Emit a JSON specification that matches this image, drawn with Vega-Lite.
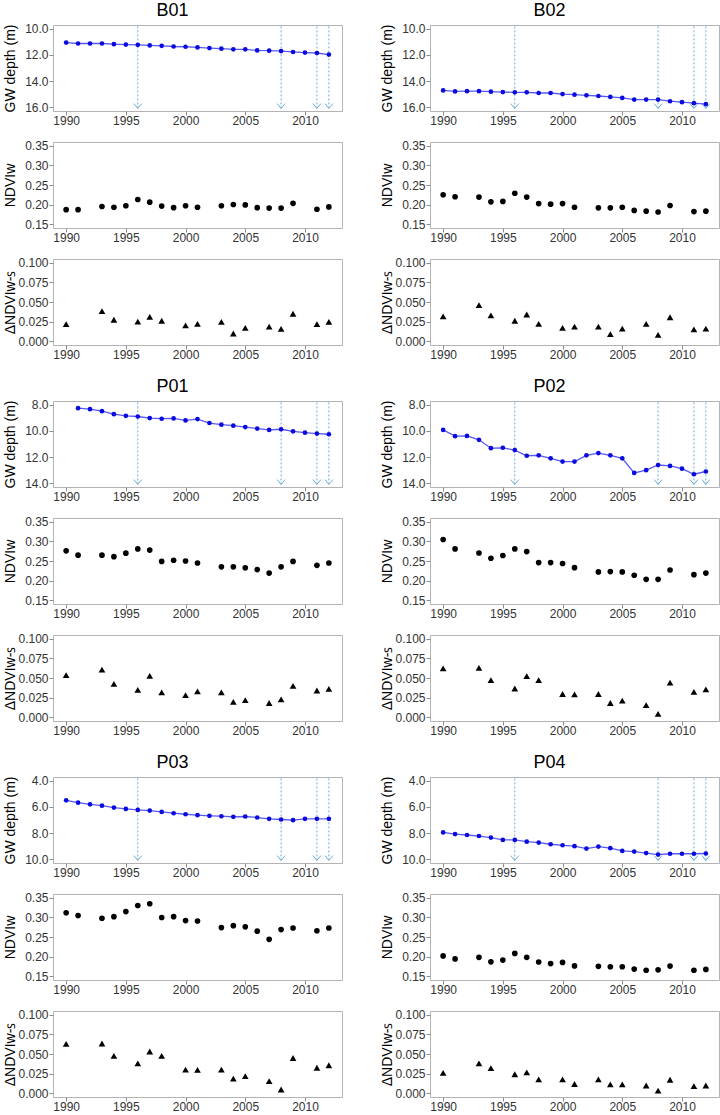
{
"$schema": "https://vega.github.io/schema/vega-lite/v6.json",
"padding": {"left": 2, "top": 2, "right": 0, "bottom": 0},
"background": "white",
"spacing": 17,
"config": {
  "view": {"stroke": "#b3b3b3", "strokeWidth": 1},
  "axis": {"labelFont": "Liberation Sans", "labelFontSize": 12, "labelColor": "#333333", "tickColor": "#8c8c8c", "tickSize": 4, "domain": false, "grid": false, "titleFont": "Liberation Sans", "titleFontSize": 14, "titleColor": "#000000", "titleFontWeight": "normal", "labelPadding": 2, "titlePadding": 4},
  "axisX": {"labelPadding": 0},
  "axisY": {"minExtent": 36, "maxExtent": 36, "titlePadding": 0, "labelPadding": 1},
  "title": {"font": "Liberation Sans", "fontSize": 18, "fontWeight": "normal", "color": "#000000", "anchor": "middle", "offset": 2, "baseline": "alphabetic"}
},
"datasets": {
  "gw": [
    {"site":"B01","year":1990,"depth":11.05},{"site":"B01","year":1991,"depth":11.12},{"site":"B01","year":1992,"depth":11.12},{"site":"B01","year":1993,"depth":11.12},{"site":"B01","year":1994,"depth":11.17},{"site":"B01","year":1995,"depth":11.2},{"site":"B01","year":1996,"depth":11.22},{"site":"B01","year":1997,"depth":11.27},{"site":"B01","year":1998,"depth":11.3},{"site":"B01","year":1999,"depth":11.35},{"site":"B01","year":2000,"depth":11.37},{"site":"B01","year":2001,"depth":11.42},{"site":"B01","year":2002,"depth":11.47},{"site":"B01","year":2003,"depth":11.52},{"site":"B01","year":2004,"depth":11.57},{"site":"B01","year":2005,"depth":11.57},{"site":"B01","year":2006,"depth":11.65},{"site":"B01","year":2007,"depth":11.67},{"site":"B01","year":2008,"depth":11.7},{"site":"B01","year":2009,"depth":11.77},{"site":"B01","year":2010,"depth":11.82},{"site":"B01","year":2011,"depth":11.85},{"site":"B01","year":2012,"depth":11.97},
    {"site":"B02","year":1990,"depth":14.72},{"site":"B02","year":1991,"depth":14.8},{"site":"B02","year":1992,"depth":14.78},{"site":"B02","year":1993,"depth":14.78},{"site":"B02","year":1994,"depth":14.82},{"site":"B02","year":1995,"depth":14.85},{"site":"B02","year":1996,"depth":14.87},{"site":"B02","year":1997,"depth":14.87},{"site":"B02","year":1998,"depth":14.92},{"site":"B02","year":1999,"depth":14.92},{"site":"B02","year":2000,"depth":15.0},{"site":"B02","year":2001,"depth":15.05},{"site":"B02","year":2002,"depth":15.1},{"site":"B02","year":2003,"depth":15.15},{"site":"B02","year":2004,"depth":15.22},{"site":"B02","year":2005,"depth":15.3},{"site":"B02","year":2006,"depth":15.42},{"site":"B02","year":2007,"depth":15.42},{"site":"B02","year":2008,"depth":15.42},{"site":"B02","year":2009,"depth":15.55},{"site":"B02","year":2010,"depth":15.62},{"site":"B02","year":2011,"depth":15.7},{"site":"B02","year":2012,"depth":15.77},
    {"site":"P01","year":1991,"depth":8.25},{"site":"P01","year":1992,"depth":8.33},{"site":"P01","year":1993,"depth":8.48},{"site":"P01","year":1994,"depth":8.71},{"site":"P01","year":1995,"depth":8.84},{"site":"P01","year":1996,"depth":8.89},{"site":"P01","year":1997,"depth":9.01},{"site":"P01","year":1998,"depth":9.06},{"site":"P01","year":1999,"depth":9.04},{"site":"P01","year":2000,"depth":9.19},{"site":"P01","year":2001,"depth":9.09},{"site":"P01","year":2002,"depth":9.39},{"site":"P01","year":2003,"depth":9.52},{"site":"P01","year":2004,"depth":9.59},{"site":"P01","year":2005,"depth":9.7},{"site":"P01","year":2006,"depth":9.82},{"site":"P01","year":2007,"depth":9.92},{"site":"P01","year":2008,"depth":9.87},{"site":"P01","year":2009,"depth":10.03},{"site":"P01","year":2010,"depth":10.13},{"site":"P01","year":2011,"depth":10.2},{"site":"P01","year":2012,"depth":10.25},
    {"site":"P02","year":1990,"depth":9.92},{"site":"P02","year":1991,"depth":10.4},{"site":"P02","year":1992,"depth":10.38},{"site":"P02","year":1993,"depth":10.68},{"site":"P02","year":1994,"depth":11.32},{"site":"P02","year":1995,"depth":11.29},{"site":"P02","year":1996,"depth":11.47},{"site":"P02","year":1997,"depth":11.9},{"site":"P02","year":1998,"depth":11.87},{"site":"P02","year":1999,"depth":12.1},{"site":"P02","year":2000,"depth":12.35},{"site":"P02","year":2001,"depth":12.35},{"site":"P02","year":2002,"depth":11.87},{"site":"P02","year":2003,"depth":11.7},{"site":"P02","year":2004,"depth":11.87},{"site":"P02","year":2005,"depth":12.1},{"site":"P02","year":2006,"depth":13.22},{"site":"P02","year":2007,"depth":13.01},{"site":"P02","year":2008,"depth":12.61},{"site":"P02","year":2009,"depth":12.68},{"site":"P02","year":2010,"depth":12.89},{"site":"P02","year":2011,"depth":13.32},{"site":"P02","year":2012,"depth":13.11},
    {"site":"P03","year":1990,"depth":5.49},{"site":"P03","year":1991,"depth":5.67},{"site":"P03","year":1992,"depth":5.8},{"site":"P03","year":1993,"depth":5.9},{"site":"P03","year":1994,"depth":6.05},{"site":"P03","year":1995,"depth":6.15},{"site":"P03","year":1996,"depth":6.23},{"site":"P03","year":1997,"depth":6.28},{"site":"P03","year":1998,"depth":6.38},{"site":"P03","year":1999,"depth":6.48},{"site":"P03","year":2000,"depth":6.56},{"site":"P03","year":2001,"depth":6.63},{"site":"P03","year":2002,"depth":6.68},{"site":"P03","year":2003,"depth":6.71},{"site":"P03","year":2004,"depth":6.76},{"site":"P03","year":2005,"depth":6.73},{"site":"P03","year":2006,"depth":6.81},{"site":"P03","year":2007,"depth":6.91},{"site":"P03","year":2008,"depth":6.96},{"site":"P03","year":2009,"depth":7.01},{"site":"P03","year":2010,"depth":6.91},{"site":"P03","year":2011,"depth":6.91},{"site":"P03","year":2012,"depth":6.91},
    {"site":"P04","year":1990,"depth":7.95},{"site":"P04","year":1991,"depth":8.08},{"site":"P04","year":1992,"depth":8.15},{"site":"P04","year":1993,"depth":8.23},{"site":"P04","year":1994,"depth":8.35},{"site":"P04","year":1995,"depth":8.53},{"site":"P04","year":1996,"depth":8.53},{"site":"P04","year":1997,"depth":8.66},{"site":"P04","year":1998,"depth":8.73},{"site":"P04","year":1999,"depth":8.86},{"site":"P04","year":2000,"depth":8.94},{"site":"P04","year":2001,"depth":9.01},{"site":"P04","year":2002,"depth":9.19},{"site":"P04","year":2003,"depth":9.04},{"site":"P04","year":2004,"depth":9.16},{"site":"P04","year":2005,"depth":9.37},{"site":"P04","year":2006,"depth":9.42},{"site":"P04","year":2007,"depth":9.54},{"site":"P04","year":2008,"depth":9.65},{"site":"P04","year":2009,"depth":9.59},{"site":"P04","year":2010,"depth":9.59},{"site":"P04","year":2011,"depth":9.59},{"site":"P04","year":2012,"depth":9.57}
  ],
  "arrows": [
    {"site":"B01","year":1996,"depth":16.1,"top":9.7},{"site":"B01","year":2008,"depth":16.1,"top":9.7},{"site":"B01","year":2011,"depth":16.1,"top":9.7},{"site":"B01","year":2012,"depth":16.1,"top":9.7},
    {"site":"B02","year":1996,"depth":16.1,"top":9.7},{"site":"B02","year":2008,"depth":16.1,"top":9.7},{"site":"B02","year":2011,"depth":16.1,"top":9.7},{"site":"B02","year":2012,"depth":16.1,"top":9.7},
    {"site":"P01","year":1996,"depth":14.1,"top":7.7},{"site":"P01","year":2008,"depth":14.1,"top":7.7},{"site":"P01","year":2011,"depth":14.1,"top":7.7},{"site":"P01","year":2012,"depth":14.1,"top":7.7},
    {"site":"P02","year":1996,"depth":14.1,"top":7.7},{"site":"P02","year":2008,"depth":14.1,"top":7.7},{"site":"P02","year":2011,"depth":14.1,"top":7.7},{"site":"P02","year":2012,"depth":14.1,"top":7.7},
    {"site":"P03","year":1996,"depth":10.1,"top":3.7},{"site":"P03","year":2008,"depth":10.1,"top":3.7},{"site":"P03","year":2011,"depth":10.1,"top":3.7},{"site":"P03","year":2012,"depth":10.1,"top":3.7},
    {"site":"P04","year":1996,"depth":10.1,"top":3.7},{"site":"P04","year":2008,"depth":10.1,"top":3.7},{"site":"P04","year":2011,"depth":10.1,"top":3.7},{"site":"P04","year":2012,"depth":10.1,"top":3.7}
  ],
  "ndvi": [
    {"site":"B01","year":1990,"v":0.187},{"site":"B01","year":1991,"v":0.187},{"site":"B01","year":1993,"v":0.195},{"site":"B01","year":1994,"v":0.193},{"site":"B01","year":1995,"v":0.197},{"site":"B01","year":1996,"v":0.213},{"site":"B01","year":1997,"v":0.206},{"site":"B01","year":1998,"v":0.196},{"site":"B01","year":1999,"v":0.192},{"site":"B01","year":2000,"v":0.197},{"site":"B01","year":2001,"v":0.193},{"site":"B01","year":2003,"v":0.197},{"site":"B01","year":2004,"v":0.2},{"site":"B01","year":2005,"v":0.199},{"site":"B01","year":2006,"v":0.192},{"site":"B01","year":2007,"v":0.191},{"site":"B01","year":2008,"v":0.191},{"site":"B01","year":2009,"v":0.203},{"site":"B01","year":2011,"v":0.188},{"site":"B01","year":2012,"v":0.194},
    {"site":"B02","year":1990,"v":0.225},{"site":"B02","year":1991,"v":0.22},{"site":"B02","year":1993,"v":0.219},{"site":"B02","year":1994,"v":0.207},{"site":"B02","year":1995,"v":0.208},{"site":"B02","year":1996,"v":0.229},{"site":"B02","year":1997,"v":0.219},{"site":"B02","year":1998,"v":0.2025},{"site":"B02","year":1999,"v":0.201},{"site":"B02","year":2000,"v":0.2025},{"site":"B02","year":2001,"v":0.193},{"site":"B02","year":2003,"v":0.1915},{"site":"B02","year":2004,"v":0.1915},{"site":"B02","year":2005,"v":0.193},{"site":"B02","year":2006,"v":0.185},{"site":"B02","year":2007,"v":0.183},{"site":"B02","year":2008,"v":0.181},{"site":"B02","year":2009,"v":0.1975},{"site":"B02","year":2011,"v":0.182},{"site":"B02","year":2012,"v":0.183},
    {"site":"P01","year":1990,"v":0.276},{"site":"P01","year":1991,"v":0.265},{"site":"P01","year":1993,"v":0.265},{"site":"P01","year":1994,"v":0.261},{"site":"P01","year":1995,"v":0.27},{"site":"P01","year":1996,"v":0.281},{"site":"P01","year":1997,"v":0.278},{"site":"P01","year":1998,"v":0.249},{"site":"P01","year":1999,"v":0.252},{"site":"P01","year":2000,"v":0.25},{"site":"P01","year":2001,"v":0.245},{"site":"P01","year":2003,"v":0.235},{"site":"P01","year":2004,"v":0.235},{"site":"P01","year":2005,"v":0.2325},{"site":"P01","year":2006,"v":0.228},{"site":"P01","year":2007,"v":0.219},{"site":"P01","year":2008,"v":0.235},{"site":"P01","year":2009,"v":0.249},{"site":"P01","year":2011,"v":0.239},{"site":"P01","year":2012,"v":0.245},
    {"site":"P02","year":1990,"v":0.305},{"site":"P02","year":1991,"v":0.281},{"site":"P02","year":1993,"v":0.2705},{"site":"P02","year":1994,"v":0.257},{"site":"P02","year":1995,"v":0.264},{"site":"P02","year":1996,"v":0.281},{"site":"P02","year":1997,"v":0.274},{"site":"P02","year":1998,"v":0.246},{"site":"P02","year":1999,"v":0.246},{"site":"P02","year":2000,"v":0.2435},{"site":"P02","year":2001,"v":0.233},{"site":"P02","year":2003,"v":0.222},{"site":"P02","year":2004,"v":0.223},{"site":"P02","year":2005,"v":0.222},{"site":"P02","year":2006,"v":0.2135},{"site":"P02","year":2007,"v":0.203},{"site":"P02","year":2008,"v":0.203},{"site":"P02","year":2009,"v":0.227},{"site":"P02","year":2011,"v":0.215},{"site":"P02","year":2012,"v":0.219},
    {"site":"P03","year":1990,"v":0.312},{"site":"P03","year":1991,"v":0.305},{"site":"P03","year":1993,"v":0.298},{"site":"P03","year":1994,"v":0.302},{"site":"P03","year":1995,"v":0.315},{"site":"P03","year":1996,"v":0.3305},{"site":"P03","year":1997,"v":0.335},{"site":"P03","year":1998,"v":0.3},{"site":"P03","year":1999,"v":0.302},{"site":"P03","year":2000,"v":0.292},{"site":"P03","year":2001,"v":0.291},{"site":"P03","year":2003,"v":0.274},{"site":"P03","year":2004,"v":0.279},{"site":"P03","year":2005,"v":0.276},{"site":"P03","year":2006,"v":0.265},{"site":"P03","year":2007,"v":0.244},{"site":"P03","year":2008,"v":0.269},{"site":"P03","year":2009,"v":0.273},{"site":"P03","year":2011,"v":0.266},{"site":"P03","year":2012,"v":0.273},
    {"site":"P04","year":1990,"v":0.2017},{"site":"P04","year":1991,"v":0.194},{"site":"P04","year":1993,"v":0.198},{"site":"P04","year":1994,"v":0.1865},{"site":"P04","year":1995,"v":0.191},{"site":"P04","year":1996,"v":0.208},{"site":"P04","year":1997,"v":0.198},{"site":"P04","year":1998,"v":0.186},{"site":"P04","year":1999,"v":0.182},{"site":"P04","year":2000,"v":0.185},{"site":"P04","year":2001,"v":0.176},{"site":"P04","year":2003,"v":0.175},{"site":"P04","year":2004,"v":0.174},{"site":"P04","year":2005,"v":0.174},{"site":"P04","year":2006,"v":0.168},{"site":"P04","year":2007,"v":0.165},{"site":"P04","year":2008,"v":0.166},{"site":"P04","year":2009,"v":0.1755},{"site":"P04","year":2011,"v":0.165},{"site":"P04","year":2012,"v":0.167}
  ],
  "dndvi": [
    {"site":"B01","year":1990,"v":0.0218},{"site":"B01","year":1993,"v":0.0384},{"site":"B01","year":1994,"v":0.0273},{"site":"B01","year":1996,"v":0.025},{"site":"B01","year":1997,"v":0.031},{"site":"B01","year":1998,"v":0.026},{"site":"B01","year":2000,"v":0.02},{"site":"B01","year":2001,"v":0.022},{"site":"B01","year":2003,"v":0.0245},{"site":"B01","year":2004,"v":0.0097},{"site":"B01","year":2005,"v":0.017},{"site":"B01","year":2007,"v":0.0185},{"site":"B01","year":2008,"v":0.0157},{"site":"B01","year":2009,"v":0.035},{"site":"B01","year":2011,"v":0.0218},{"site":"B01","year":2012,"v":0.0245},
    {"site":"B02","year":1990,"v":0.0315},{"site":"B02","year":1993,"v":0.046},{"site":"B02","year":1994,"v":0.033},{"site":"B02","year":1996,"v":0.026},{"site":"B02","year":1997,"v":0.034},{"site":"B02","year":1998,"v":0.022},{"site":"B02","year":2000,"v":0.017},{"site":"B02","year":2001,"v":0.0185},{"site":"B02","year":2003,"v":0.0185},{"site":"B02","year":2004,"v":0.0088},{"site":"B02","year":2005,"v":0.016},{"site":"B02","year":2007,"v":0.022},{"site":"B02","year":2008,"v":0.0079},{"site":"B02","year":2009,"v":0.0305},{"site":"B02","year":2011,"v":0.015},{"site":"B02","year":2012,"v":0.016},
    {"site":"P01","year":1990,"v":0.0537},{"site":"P01","year":1993,"v":0.0606},{"site":"P01","year":1994,"v":0.0426},{"site":"P01","year":1996,"v":0.0347},{"site":"P01","year":1997,"v":0.0528},{"site":"P01","year":1998,"v":0.0316},{"site":"P01","year":2000,"v":0.028},{"site":"P01","year":2001,"v":0.033},{"site":"P01","year":2003,"v":0.0316},{"site":"P01","year":2004,"v":0.0195},{"site":"P01","year":2005,"v":0.0218},{"site":"P01","year":2007,"v":0.018},{"site":"P01","year":2008,"v":0.0226},{"site":"P01","year":2009,"v":0.04},{"site":"P01","year":2011,"v":0.034},{"site":"P01","year":2012,"v":0.036},
    {"site":"P02","year":1990,"v":0.0624},{"site":"P02","year":1993,"v":0.0629},{"site":"P02","year":1994,"v":0.0472},{"site":"P02","year":1996,"v":0.0366},{"site":"P02","year":1997,"v":0.0523},{"site":"P02","year":1998,"v":0.0472},{"site":"P02","year":2000,"v":0.0295},{"site":"P02","year":2001,"v":0.029},{"site":"P02","year":2003,"v":0.0295},{"site":"P02","year":2004,"v":0.018},{"site":"P02","year":2005,"v":0.021},{"site":"P02","year":2007,"v":0.0152},{"site":"P02","year":2008,"v":0.0041},{"site":"P02","year":2009,"v":0.0442},{"site":"P02","year":2011,"v":0.0323},{"site":"P02","year":2012,"v":0.0355},
    {"site":"P03","year":1990,"v":0.063},{"site":"P03","year":1993,"v":0.0634},{"site":"P03","year":1994,"v":0.0477},{"site":"P03","year":1996,"v":0.038},{"site":"P03","year":1997,"v":0.0532},{"site":"P03","year":1998,"v":0.0477},{"site":"P03","year":2000,"v":0.0301},{"site":"P03","year":2001,"v":0.0296},{"site":"P03","year":2003,"v":0.0301},{"site":"P03","year":2004,"v":0.0185},{"site":"P03","year":2005,"v":0.0218},{"site":"P03","year":2007,"v":0.0153},{"site":"P03","year":2008,"v":0.0046},{"site":"P03","year":2009,"v":0.0449},{"site":"P03","year":2011,"v":0.0324},{"site":"P03","year":2012,"v":0.0356},
    {"site":"P04","year":1990,"v":0.0259},{"site":"P04","year":1993,"v":0.038},{"site":"P04","year":1994,"v":0.032},{"site":"P04","year":1996,"v":0.0241},{"site":"P04","year":1997,"v":0.0264},{"site":"P04","year":1998,"v":0.0176},{"site":"P04","year":2000,"v":0.0176},{"site":"P04","year":2001,"v":0.0116},{"site":"P04","year":2003,"v":0.0176},{"site":"P04","year":2004,"v":0.0111},{"site":"P04","year":2005,"v":0.0111},{"site":"P04","year":2007,"v":0.0097},{"site":"P04","year":2008,"v":0.0032},{"site":"P04","year":2009,"v":0.0171},{"site":"P04","year":2011,"v":0.0088},{"site":"P04","year":2012,"v":0.0097}
  ]
},
"vconcat": [
 {"spacing": 36, "hconcat": [
  {"title": "B01", "spacing": 12, "vconcat": [
    {"width": 289, "height": 86,
     "encoding": {"x": {"field":"year","type":"quantitative","scale":{"domain":[1988.9,2013.1],"nice":false,"zero":false},"axis":{"values":[1990,1995,2000,2005,2010],"format":"d","title":null}},
                  "y": {"field":"depth","type":"quantitative","scale":{"domain":[9.7,16.3],"reverse":true,"nice":false,"zero":false},"axis":{"values":[10,12,14,16],"format":".1f","title":"GW depth (m)"}}},
     "layer": [
       {"data":{"name":"arrows"},"transform":[{"filter":"datum.site==='B01'"}],"mark":{"type":"rule","color":"#6baed6","strokeDash":[2,2],"strokeWidth":1},"encoding":{"y2":{"field":"top"}}},
       {"data":{"name":"arrows"},"transform":[{"filter":"datum.site==='B01'"}],"mark":{"type":"point","shape":"M-1,-1.2L0,0L1,-1.2","filled":false,"stroke":"#6baed6","strokeWidth":1,"size":64,"opacity":1},"encoding":{}},
       {"data":{"name":"gw"},"transform":[{"filter":"datum.site==='B01'"}],"mark":{"type":"line","color":"#3b3bf5","opacity":0.85,"strokeWidth":1.3},"encoding":{}},
       {"data":{"name":"gw"},"transform":[{"filter":"datum.site==='B01'"}],"mark":{"type":"point","filled":true,"color":"#0a0adf","size":22,"opacity":1},"encoding":{}}
     ]},
    {"width": 289, "height": 86, "data":{"name":"ndvi"},"transform":[{"filter":"datum.site==='B01'"}],
     "mark":{"type":"point","filled":true,"shape":"circle","size":32,"color":"#000000","opacity":1},
     "encoding":{"x": {"field":"year","type":"quantitative","scale":{"domain":[1988.9,2013.1],"nice":false,"zero":false},"axis":{"values":[1990,1995,2000,2005,2010],"format":"d","title":null}},
       "y":{"field":"v","type":"quantitative","scale":{"domain":[0.14,0.36],"nice":false,"zero":false},"axis":{"values":[0.15,0.2,0.25,0.3,0.35],"format":".2f","title":"NDVIᴡ"}}}},
    {"width": 289, "height": 86, "data":{"name":"dndvi"},"transform":[{"filter":"datum.site==='B01'"}],
     "mark":{"type":"point","filled":true,"shape":"triangle-up","size":45,"color":"#000000","opacity":1},
     "encoding":{"x": {"field":"year","type":"quantitative","scale":{"domain":[1988.9,2013.1],"nice":false,"zero":false},"axis":{"values":[1990,1995,2000,2005,2010],"format":"d","title":null}},
       "y":{"field":"v","type":"quantitative","scale":{"domain":[-0.005,0.105],"nice":false,"zero":false},"axis":{"values":[0,0.025,0.05,0.075,0.1],"format":".3f","title":"ΔNDVIᴡ-ꜱ"}}}}
  ]},
  {"title": "B02", "spacing": 12, "vconcat": [
    {"width": 289, "height": 86,
     "encoding": {"x": {"field":"year","type":"quantitative","scale":{"domain":[1988.9,2013.1],"nice":false,"zero":false},"axis":{"values":[1990,1995,2000,2005,2010],"format":"d","title":null}},
                  "y": {"field":"depth","type":"quantitative","scale":{"domain":[9.7,16.3],"reverse":true,"nice":false,"zero":false},"axis":{"values":[10,12,14,16],"format":".1f","title":"GW depth (m)"}}},
     "layer": [
       {"data":{"name":"arrows"},"transform":[{"filter":"datum.site==='B02'"}],"mark":{"type":"rule","color":"#6baed6","strokeDash":[2,2],"strokeWidth":1},"encoding":{"y2":{"field":"top"}}},
       {"data":{"name":"arrows"},"transform":[{"filter":"datum.site==='B02'"}],"mark":{"type":"point","shape":"M-1,-1.2L0,0L1,-1.2","filled":false,"stroke":"#6baed6","strokeWidth":1,"size":64,"opacity":1},"encoding":{}},
       {"data":{"name":"gw"},"transform":[{"filter":"datum.site==='B02'"}],"mark":{"type":"line","color":"#3b3bf5","opacity":0.85,"strokeWidth":1.3},"encoding":{}},
       {"data":{"name":"gw"},"transform":[{"filter":"datum.site==='B02'"}],"mark":{"type":"point","filled":true,"color":"#0a0adf","size":22,"opacity":1},"encoding":{}}
     ]},
    {"width": 289, "height": 86, "data":{"name":"ndvi"},"transform":[{"filter":"datum.site==='B02'"}],
     "mark":{"type":"point","filled":true,"shape":"circle","size":32,"color":"#000000","opacity":1},
     "encoding":{"x": {"field":"year","type":"quantitative","scale":{"domain":[1988.9,2013.1],"nice":false,"zero":false},"axis":{"values":[1990,1995,2000,2005,2010],"format":"d","title":null}},
       "y":{"field":"v","type":"quantitative","scale":{"domain":[0.14,0.36],"nice":false,"zero":false},"axis":{"values":[0.15,0.2,0.25,0.3,0.35],"format":".2f","title":"NDVIᴡ"}}}},
    {"width": 289, "height": 86, "data":{"name":"dndvi"},"transform":[{"filter":"datum.site==='B02'"}],
     "mark":{"type":"point","filled":true,"shape":"triangle-up","size":45,"color":"#000000","opacity":1},
     "encoding":{"x": {"field":"year","type":"quantitative","scale":{"domain":[1988.9,2013.1],"nice":false,"zero":false},"axis":{"values":[1990,1995,2000,2005,2010],"format":"d","title":null}},
       "y":{"field":"v","type":"quantitative","scale":{"domain":[-0.005,0.105],"nice":false,"zero":false},"axis":{"values":[0,0.025,0.05,0.075,0.1],"format":".3f","title":"ΔNDVIᴡ-ꜱ"}}}}
  ]}
 ]},
 {"spacing": 36, "hconcat": [
  {"title": "P01", "spacing": 12, "vconcat": [
    {"width": 289, "height": 86,
     "encoding": {"x": {"field":"year","type":"quantitative","scale":{"domain":[1988.9,2013.1],"nice":false,"zero":false},"axis":{"values":[1990,1995,2000,2005,2010],"format":"d","title":null}},
                  "y": {"field":"depth","type":"quantitative","scale":{"domain":[7.7,14.3],"reverse":true,"nice":false,"zero":false},"axis":{"values":[8,10,12,14],"format":".1f","title":"GW depth (m)"}}},
     "layer": [
       {"data":{"name":"arrows"},"transform":[{"filter":"datum.site==='P01'"}],"mark":{"type":"rule","color":"#6baed6","strokeDash":[2,2],"strokeWidth":1},"encoding":{"y2":{"field":"top"}}},
       {"data":{"name":"arrows"},"transform":[{"filter":"datum.site==='P01'"}],"mark":{"type":"point","shape":"M-1,-1.2L0,0L1,-1.2","filled":false,"stroke":"#6baed6","strokeWidth":1,"size":64,"opacity":1},"encoding":{}},
       {"data":{"name":"gw"},"transform":[{"filter":"datum.site==='P01'"}],"mark":{"type":"line","color":"#3b3bf5","opacity":0.85,"strokeWidth":1.3},"encoding":{}},
       {"data":{"name":"gw"},"transform":[{"filter":"datum.site==='P01'"}],"mark":{"type":"point","filled":true,"color":"#0a0adf","size":22,"opacity":1},"encoding":{}}
     ]},
    {"width": 289, "height": 86, "data":{"name":"ndvi"},"transform":[{"filter":"datum.site==='P01'"}],
     "mark":{"type":"point","filled":true,"shape":"circle","size":32,"color":"#000000","opacity":1},
     "encoding":{"x": {"field":"year","type":"quantitative","scale":{"domain":[1988.9,2013.1],"nice":false,"zero":false},"axis":{"values":[1990,1995,2000,2005,2010],"format":"d","title":null}},
       "y":{"field":"v","type":"quantitative","scale":{"domain":[0.14,0.36],"nice":false,"zero":false},"axis":{"values":[0.15,0.2,0.25,0.3,0.35],"format":".2f","title":"NDVIᴡ"}}}},
    {"width": 289, "height": 86, "data":{"name":"dndvi"},"transform":[{"filter":"datum.site==='P01'"}],
     "mark":{"type":"point","filled":true,"shape":"triangle-up","size":45,"color":"#000000","opacity":1},
     "encoding":{"x": {"field":"year","type":"quantitative","scale":{"domain":[1988.9,2013.1],"nice":false,"zero":false},"axis":{"values":[1990,1995,2000,2005,2010],"format":"d","title":null}},
       "y":{"field":"v","type":"quantitative","scale":{"domain":[-0.005,0.105],"nice":false,"zero":false},"axis":{"values":[0,0.025,0.05,0.075,0.1],"format":".3f","title":"ΔNDVIᴡ-ꜱ"}}}}
  ]},
  {"title": "P02", "spacing": 12, "vconcat": [
    {"width": 289, "height": 86,
     "encoding": {"x": {"field":"year","type":"quantitative","scale":{"domain":[1988.9,2013.1],"nice":false,"zero":false},"axis":{"values":[1990,1995,2000,2005,2010],"format":"d","title":null}},
                  "y": {"field":"depth","type":"quantitative","scale":{"domain":[7.7,14.3],"reverse":true,"nice":false,"zero":false},"axis":{"values":[8,10,12,14],"format":".1f","title":"GW depth (m)"}}},
     "layer": [
       {"data":{"name":"arrows"},"transform":[{"filter":"datum.site==='P02'"}],"mark":{"type":"rule","color":"#6baed6","strokeDash":[2,2],"strokeWidth":1},"encoding":{"y2":{"field":"top"}}},
       {"data":{"name":"arrows"},"transform":[{"filter":"datum.site==='P02'"}],"mark":{"type":"point","shape":"M-1,-1.2L0,0L1,-1.2","filled":false,"stroke":"#6baed6","strokeWidth":1,"size":64,"opacity":1},"encoding":{}},
       {"data":{"name":"gw"},"transform":[{"filter":"datum.site==='P02'"}],"mark":{"type":"line","color":"#3b3bf5","opacity":0.85,"strokeWidth":1.3},"encoding":{}},
       {"data":{"name":"gw"},"transform":[{"filter":"datum.site==='P02'"}],"mark":{"type":"point","filled":true,"color":"#0a0adf","size":22,"opacity":1},"encoding":{}}
     ]},
    {"width": 289, "height": 86, "data":{"name":"ndvi"},"transform":[{"filter":"datum.site==='P02'"}],
     "mark":{"type":"point","filled":true,"shape":"circle","size":32,"color":"#000000","opacity":1},
     "encoding":{"x": {"field":"year","type":"quantitative","scale":{"domain":[1988.9,2013.1],"nice":false,"zero":false},"axis":{"values":[1990,1995,2000,2005,2010],"format":"d","title":null}},
       "y":{"field":"v","type":"quantitative","scale":{"domain":[0.14,0.36],"nice":false,"zero":false},"axis":{"values":[0.15,0.2,0.25,0.3,0.35],"format":".2f","title":"NDVIᴡ"}}}},
    {"width": 289, "height": 86, "data":{"name":"dndvi"},"transform":[{"filter":"datum.site==='P02'"}],
     "mark":{"type":"point","filled":true,"shape":"triangle-up","size":45,"color":"#000000","opacity":1},
     "encoding":{"x": {"field":"year","type":"quantitative","scale":{"domain":[1988.9,2013.1],"nice":false,"zero":false},"axis":{"values":[1990,1995,2000,2005,2010],"format":"d","title":null}},
       "y":{"field":"v","type":"quantitative","scale":{"domain":[-0.005,0.105],"nice":false,"zero":false},"axis":{"values":[0,0.025,0.05,0.075,0.1],"format":".3f","title":"ΔNDVIᴡ-ꜱ"}}}}
  ]}
 ]},
 {"spacing": 36, "hconcat": [
  {"title": "P03", "spacing": 12, "vconcat": [
    {"width": 289, "height": 86,
     "encoding": {"x": {"field":"year","type":"quantitative","scale":{"domain":[1988.9,2013.1],"nice":false,"zero":false},"axis":{"values":[1990,1995,2000,2005,2010],"format":"d","title":null}},
                  "y": {"field":"depth","type":"quantitative","scale":{"domain":[3.7,10.3],"reverse":true,"nice":false,"zero":false},"axis":{"values":[4,6,8,10],"format":".1f","title":"GW depth (m)"}}},
     "layer": [
       {"data":{"name":"arrows"},"transform":[{"filter":"datum.site==='P03'"}],"mark":{"type":"rule","color":"#6baed6","strokeDash":[2,2],"strokeWidth":1},"encoding":{"y2":{"field":"top"}}},
       {"data":{"name":"arrows"},"transform":[{"filter":"datum.site==='P03'"}],"mark":{"type":"point","shape":"M-1,-1.2L0,0L1,-1.2","filled":false,"stroke":"#6baed6","strokeWidth":1,"size":64,"opacity":1},"encoding":{}},
       {"data":{"name":"gw"},"transform":[{"filter":"datum.site==='P03'"}],"mark":{"type":"line","color":"#3b3bf5","opacity":0.85,"strokeWidth":1.3},"encoding":{}},
       {"data":{"name":"gw"},"transform":[{"filter":"datum.site==='P03'"}],"mark":{"type":"point","filled":true,"color":"#0a0adf","size":22,"opacity":1},"encoding":{}}
     ]},
    {"width": 289, "height": 86, "data":{"name":"ndvi"},"transform":[{"filter":"datum.site==='P03'"}],
     "mark":{"type":"point","filled":true,"shape":"circle","size":32,"color":"#000000","opacity":1},
     "encoding":{"x": {"field":"year","type":"quantitative","scale":{"domain":[1988.9,2013.1],"nice":false,"zero":false},"axis":{"values":[1990,1995,2000,2005,2010],"format":"d","title":null}},
       "y":{"field":"v","type":"quantitative","scale":{"domain":[0.14,0.36],"nice":false,"zero":false},"axis":{"values":[0.15,0.2,0.25,0.3,0.35],"format":".2f","title":"NDVIᴡ"}}}},
    {"width": 289, "height": 86, "data":{"name":"dndvi"},"transform":[{"filter":"datum.site==='P03'"}],
     "mark":{"type":"point","filled":true,"shape":"triangle-up","size":45,"color":"#000000","opacity":1},
     "encoding":{"x": {"field":"year","type":"quantitative","scale":{"domain":[1988.9,2013.1],"nice":false,"zero":false},"axis":{"values":[1990,1995,2000,2005,2010],"format":"d","title":null}},
       "y":{"field":"v","type":"quantitative","scale":{"domain":[-0.005,0.105],"nice":false,"zero":false},"axis":{"values":[0,0.025,0.05,0.075,0.1],"format":".3f","title":"ΔNDVIᴡ-ꜱ"}}}}
  ]},
  {"title": "P04", "spacing": 12, "vconcat": [
    {"width": 289, "height": 86,
     "encoding": {"x": {"field":"year","type":"quantitative","scale":{"domain":[1988.9,2013.1],"nice":false,"zero":false},"axis":{"values":[1990,1995,2000,2005,2010],"format":"d","title":null}},
                  "y": {"field":"depth","type":"quantitative","scale":{"domain":[3.7,10.3],"reverse":true,"nice":false,"zero":false},"axis":{"values":[4,6,8,10],"format":".1f","title":"GW depth (m)"}}},
     "layer": [
       {"data":{"name":"arrows"},"transform":[{"filter":"datum.site==='P04'"}],"mark":{"type":"rule","color":"#6baed6","strokeDash":[2,2],"strokeWidth":1},"encoding":{"y2":{"field":"top"}}},
       {"data":{"name":"arrows"},"transform":[{"filter":"datum.site==='P04'"}],"mark":{"type":"point","shape":"M-1,-1.2L0,0L1,-1.2","filled":false,"stroke":"#6baed6","strokeWidth":1,"size":64,"opacity":1},"encoding":{}},
       {"data":{"name":"gw"},"transform":[{"filter":"datum.site==='P04'"}],"mark":{"type":"line","color":"#3b3bf5","opacity":0.85,"strokeWidth":1.3},"encoding":{}},
       {"data":{"name":"gw"},"transform":[{"filter":"datum.site==='P04'"}],"mark":{"type":"point","filled":true,"color":"#0a0adf","size":22,"opacity":1},"encoding":{}}
     ]},
    {"width": 289, "height": 86, "data":{"name":"ndvi"},"transform":[{"filter":"datum.site==='P04'"}],
     "mark":{"type":"point","filled":true,"shape":"circle","size":32,"color":"#000000","opacity":1},
     "encoding":{"x": {"field":"year","type":"quantitative","scale":{"domain":[1988.9,2013.1],"nice":false,"zero":false},"axis":{"values":[1990,1995,2000,2005,2010],"format":"d","title":null}},
       "y":{"field":"v","type":"quantitative","scale":{"domain":[0.14,0.36],"nice":false,"zero":false},"axis":{"values":[0.15,0.2,0.25,0.3,0.35],"format":".2f","title":"NDVIᴡ"}}}},
    {"width": 289, "height": 86, "data":{"name":"dndvi"},"transform":[{"filter":"datum.site==='P04'"}],
     "mark":{"type":"point","filled":true,"shape":"triangle-up","size":45,"color":"#000000","opacity":1},
     "encoding":{"x": {"field":"year","type":"quantitative","scale":{"domain":[1988.9,2013.1],"nice":false,"zero":false},"axis":{"values":[1990,1995,2000,2005,2010],"format":"d","title":null}},
       "y":{"field":"v","type":"quantitative","scale":{"domain":[-0.005,0.105],"nice":false,"zero":false},"axis":{"values":[0,0.025,0.05,0.075,0.1],"format":".3f","title":"ΔNDVIᴡ-ꜱ"}}}}
  ]}
 ]}
]
}
